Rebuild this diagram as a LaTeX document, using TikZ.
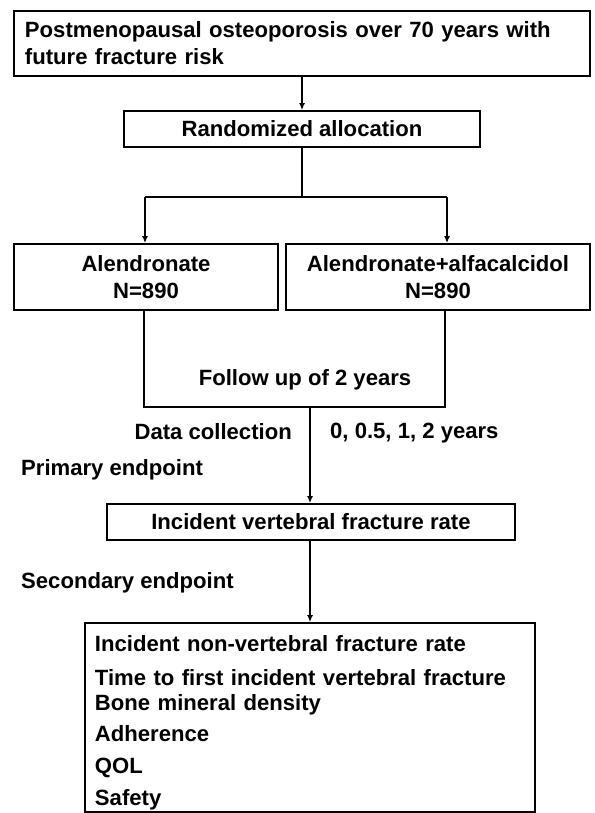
\documentclass[tikz,border=0pt]{standalone}
\usepackage{fontspec}
\setmainfont{Liberation Sans}
\usetikzlibrary{arrows.meta}
\begin{document}
\begin{tikzpicture}[x=1bp,y=-1bp,
  every node/.style={font=\fontsize{22.1bp}{27bp}\selectfont\bfseries},
  box/.style={draw, line width=1.8bp, inner sep=0pt},
  lab/.style={inner sep=0pt},
  conn/.style={line width=1.8bp},
  arr/.style={line width=1.8bp, -{Latex[length=7bp,width=6bp]}}]
\useasboundingbox (0,0) rectangle (595,813);
\fill[white] (0,0) rectangle (595,813);

\node[box, minimum width=576bp, minimum height=65bp, text width=554bp, align=left] (b1) at (302,43.5)
  {Postmenopausal osteoporosis over 70 years with\\future fracture risk};
\node[box, minimum width=356bp, minimum height=36bp] (b2) at (302,129) {Randomized allocation};
\node[box, minimum width=264bp, minimum height=66bp, align=center] (b3) at (146,277) {Alendronate\\N=890};
\node[box, minimum width=304bp, minimum height=66bp, align=center] (b4) at (438,277) {Alendronate+alfacalcidol\\N=890};
\node[lab] (fu) at (305,380) {Follow up of 2 years};
\coordinate (fl) at (144,407);
\coordinate (fr) at (445,407);
\coordinate (fb) at (310,407);
\node[lab, anchor=east] (dc) at (292,432) {Data collection};
\node[lab, anchor=west] (dt) at (330,433) {0, 0.5, 1, 2 years};
\node[lab, anchor=west] (pe) at (21,470) {Primary endpoint};
\node[box, minimum width=408bp, minimum height=36bp] (b5) at (311,522) {Incident vertebral fracture rate};
\node[lab, anchor=west] (se) at (21,583) {Secondary endpoint};
\node[box, minimum width=450bp, minimum height=189bp, text width=430bp, align=left] (b6) at (310,717.5)
  {\rule{0pt}{26bp}Incident non-vertebral fracture rate\\[7bp]
   Time to first incident vertebral fracture\\[-2bp]
   Bone mineral density\\[4bp]
   Adherence\\[5bp]
   QOL\\[5bp]
   Safety};

\coordinate (sp) at (302,197);
\coordinate (spl) at (145,197);
\coordinate (spr) at (447,197);

\draw[arr] (b1.south) -- (b2.north);
\draw[conn] (b2.south) -- (sp);
\draw[conn] (spl) -- (spr);
\draw[arr] (spl) -- (spl |- b3.north);
\draw[arr] (spr) -- (spr |- b4.north);
\draw[conn] (fl |- b3.south) -- (fl) -- (fr) -- (fr |- b4.south);
\draw[arr] (fb) -- (fb |- b5.north);
\draw[arr] (b5.south -| fb) -- (fb |- b6.north);
\end{tikzpicture}
\end{document}
